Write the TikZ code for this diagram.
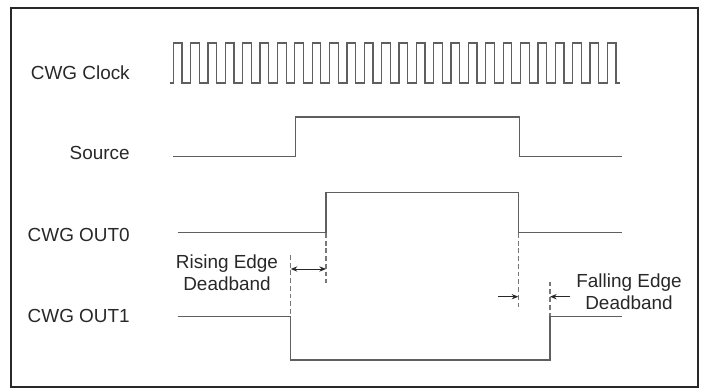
\documentclass[tikz,border=0pt]{standalone}
\usepackage{fontspec}
\setmainfont{Liberation Sans}
\usetikzlibrary{positioning,arrows.meta}
\definecolor{wavegray}{RGB}{95,95,95}
\definecolor{inkgray}{RGB}{40,40,40}

\begin{document}
\begin{tikzpicture}[
        x=0.75pt, y=-0.75pt,
        lbl/.style={inner sep=0pt, text=inkgray, font=\fontsize{14.2}{16.3}\selectfont},
        wave/.style={draw=wavegray, line width=0.95pt},
        guide/.style={draw=wavegray!85, line width=0.8pt, dash pattern=on 3.6pt off 2.2pt},
        dimarrow/.style={-{Stealth[length=5pt,width=4pt]}, draw=inkgray, line width=0.7pt},
        dimboth/.style={{Stealth[length=5pt,width=4pt]}-{Stealth[length=5pt,width=4pt]}, draw=inkgray, line width=0.7pt}
    ]
    \useasboundingbox (0,0) rectangle (703,388);
    \draw[line width=0.9pt, draw=inkgray] (11,8) rectangle (698,387);

    \node[lbl, anchor=base east] (clk) at (130,80) {CWG Clock};
    \node[lbl, anchor=base east] (src) at (130,160) {Source};
    \node[lbl, anchor=base east] (out0) at (130,241.5) {CWG OUT0};
    \node[lbl, anchor=base east] (out1) at (130,322.5) {CWG OUT1};
    \node[lbl, align=center] (rise) at (227,272.5) {Rising Edge\\Deadband};
    \node[lbl, align=center] (fall) at (629,291.5) {Falling Edge\\Deadband};

    \draw[wave] (170,83) -- (173.3,83)
        \foreach \i in {1,...,25} { -- ++(0,-40) -- ++(8.68,0) -- ++(0,40) -- ++(8.68,0) }
        -- ++(0,-40) -- ++(8.68,0) -- ++(0,40) -- ++(4.5,0);
    \draw[wave] (173,156.5) -- (295.7,156.5) -- (295.7,117) -- (519.3,117)
        -- (519.3,156.5) -- (621.7,156.5);
    \draw[wave] (177.7,232.3) -- (326,232.3) -- (326,192.3) -- (518.3,192.3)
        -- (518.3,232.3) -- (621.7,232.3);
    \draw[wave] (177.7,316.7) -- (290.7,316.7) -- (290.7,360) -- (550,360)
        -- (550,316.7) -- (621.7,316.7);

    \coordinate (r0) at (326,269);
    \coordinate (r1) at (290.7,269);
    \coordinate (f0) at (518.3,296.7);
    \coordinate (f1) at (550,296.7);
    \coordinate (f0tail) at (498.3,296.7);
    \coordinate (f1tail) at (570,296.7);

    \draw[guide] (326,233) -- (326,283);
    \draw[guide] (290.7,255) -- (290.7,316);
    \draw[guide] (518.3,233) -- (518.3,310);
    \draw[guide] (550,281.7) -- (550,316);

    \draw[dimboth] (r1) -- (r0);
    \draw[dimarrow] (f0tail) -- (f0);
    \draw[dimarrow] (f1tail) -- (f1);
\end{tikzpicture}
\end{document}
